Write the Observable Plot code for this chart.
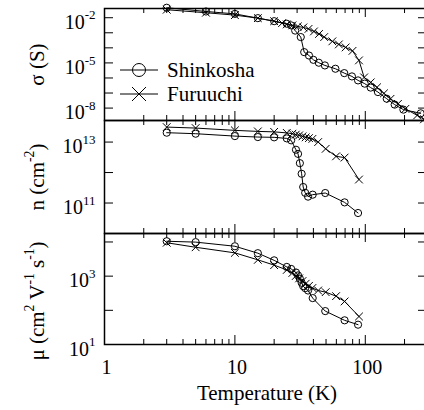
<!DOCTYPE html>
<html><head><meta charset="utf-8">
<script src="https://cdn.jsdelivr.net/npm/d3@7"></script>
<script src="https://cdn.jsdelivr.net/npm/@observablehq/plot@0.6"></script>
<style>
body{margin:0;background:#fff;}
#chart{position:relative;width:424px;height:410px;overflow:hidden;}
#chart svg{position:absolute;left:0;}
</style></head><body><div id="chart"></div>
<script>
// ---- data ----
const sigmaShinkoshaT = [3, 6, 10, 15, 20, 25, 27, 29, 32, 34, 37, 40, 44, 49, 59, 69, 79, 88, 99, 110, 125, 146, 168, 196, 266];
const sigmaShinkosha = [4.6e-2, 2.6e-2, 1.8e-2, 9.4e-3, 5.9e-3, 4.0e-3, 3.1e-3, 1.4e-3, 5.2e-4, 5.2e-5, 3.1e-5, 1.6e-5, 1.03e-5, 6.8e-6, 4.1e-6, 2.1e-6, 1.27e-6, 6.9e-7, 4.2e-7, 2.3e-7, 1.16e-7, 4.2e-8, 1.7e-8, 7.9e-9, 4.5e-9];
const sigmaFuruuchiT = [3, 6, 10, 15, 20, 23, 25, 27.6, 30.4, 33.5, 36.7, 40.4, 44.2, 48.4, 55.9, 62.7, 70.7, 79.8, 89.5, 98, 110, 123, 139, 156, 178, 203, 250, 282];
const sigmaFuruuchi = [3.4e-2, 2.15e-2, 1.49e-2, 9.4e-3, 5.9e-3, 4.4e-3, 3.6e-3, 3.1e-3, 2.65e-3, 2.27e-3, 1.81e-3, 1.23e-3, 8.4e-4, 5.2e-4, 2.7e-4, 1.69e-4, 1.07e-4, 6.3e-5, 1.47e-5, 1.09e-6, 5.1e-7, 2.4e-7, 9.5e-8, 4.1e-8, 1.9e-8, 8.9e-9, 3.3e-9, 1.8e-9];

const hallShinkoshaT = [3, 5, 10, 15, 20, 25, 27, 29.4, 30.5, 31.5, 32.5, 33.4, 34.6, 36.4, 39.5, 49.3, 69.4, 88];
const nShinkosha = [2.03e13, 1.88e13, 1.57e13, 1.46e13, 1.43e13, 1.32e13, 1.14e13, 5.6e12, 4.1e12, 2.03e12, 9.1e11, 3.35e11, 2.16e11, 1.62e11, 1.88e11, 2.13e11, 1.05e11, 4.7e10];
const muShinkosha = [1.05e4, 9.9e3, 7.5e3, 4.7e3, 2.9e3, 1.86e3, 1.63e3, 1.28e3, 1.05e3, 840, 640, 510, 445, 380, 228, 95, 51, 38];

const hallFuruuchiT = [3, 5, 10, 15, 20, 25, 27.6, 29.3, 31.1, 33, 34.9, 37, 39.3, 43.5, 49.7, 59.7, 69.4, 89.5];
const nFuruuchi = [3.1e13, 2.88e13, 2.42e13, 2.24e13, 2.16e13, 2.0e13, 1.88e13, 1.75e13, 1.66e13, 1.54e13, 1.43e13, 1.35e13, 1.27e13, 1.0e13, 6.0e12, 3.4e12, 3.1e12, 5.9e11];
const muFuruuchi = [9.5e3, 7.0e3, 4.8e3, 3.0e3, 2.1e3, 1.52e3, 1.24e3, 1.01e3, 860, 720, 600, 520, 450, 380, 340, 260, 182, 66];

const seriesNames = ["Shinkosha", "Furuuchi"];
const xTickLabels = [1, 10, 100];
const xMinorTicks = [2, 3, 4, 5, 6, 7, 8, 9, 20, 30, 40, 50, 60, 70, 80, 90, 200, 300];
const sigmaTicks = [1e-2, 1e-3, 1e-4, 1e-5, 1e-6, 1e-7, 1e-8];
const sigmaLabels = [1e-2, 1e-5, 1e-8];
const nTicks = [1e13, 1e12, 1e11];
const nLabels = [1e13, 1e11];
const muTicks = [1e4, 1e3, 1e2];
const muLabels = [1e3, 1e1];
const xTitle = "Temperature (K)";
const sigmaTitle = "σ (S)";
const nTitle = "n (cm^{-2})";
const muTitle = "μ (cm^{2} V^{-1} s^{-1})";

// ---- layout ----
const font = 'Liberation Serif, Times New Roman, Times, Tinos, Noto Serif, DejaVu Serif, FreeSerif, Nimbus Roman, serif';
const W = 428, ML = 104, MR = 1, FW = W - ML - MR;
const rows = (T, V) => T.map((t, i) => ({T: t, v: V[i]}));

function seriesMarks(a, b) {
  return [
    Plot.line(a, {x: "T", y: "v", stroke: "black", strokeWidth: 1}),
    Plot.line(b, {x: "T", y: "v", stroke: "black", strokeWidth: 1}),
    Plot.dot(a, {x: "T", y: "v", r: 3.6, symbol: "circle", stroke: "black", fill: "none", strokeWidth: 1}),
    Plot.dot(b, {x: "T", y: "v", r: 3.6, symbol: "times", stroke: "black", strokeWidth: 1})
  ];
}

function panel({top, height, marginTop = 0, marginBottom = 0, yDomain, yTicks, yLabels, title, titleDy = 0, a, b, extra = []}) {
  const FH = height - marginTop - marginBottom;
  const svg = Plot.plot({
    width: W, height, marginLeft: ML, marginRight: MR, marginTop, marginBottom,
    style: {overflow: "visible", maxWidth: "none", background: "transparent", color: "black"},
    x: {type: "log", domain: [1, 300], axis: null},
    y: {type: "log", domain: yDomain, axis: null},
    marks: [
      Plot.tickX(xTickLabels, {x: d => d, insetBottom: FH - 9, stroke: "black"}),
      Plot.tickX(xTickLabels, {x: d => d, insetTop: FH - 9, stroke: "black"}),
      Plot.tickX(xMinorTicks, {x: d => d, insetBottom: FH - 5, stroke: "black"}),
      Plot.tickX(xMinorTicks, {x: d => d, insetTop: FH - 5, stroke: "black"}),
      Plot.tickY(yTicks, {y: d => d, insetRight: FW - 9, stroke: "black"}),
      Plot.tickY(yTicks, {y: d => d, insetLeft: FW - 9, stroke: "black"}),
      Plot.frame({stroke: "black", strokeWidth: 1.5}),
      Plot.text(yLabels, {y: d => d, frameAnchor: "left", dx: -9, dy: 11, lineAnchor: "bottom", textAnchor: "end",
        text: d => `10^{${Math.round(Math.log10(d))}}`, fontSize: 20, fill: "black", fontFamily: font}),
      Plot.text([title], {frameAnchor: "left", dx: -61, dy: titleDy, rotate: -90, lineAnchor: "bottom", textAnchor: "middle", fontSize: 21, fill: "black", fontFamily: font}),
      ...seriesMarks(a, b),
      ...extra
    ]
  });
  svg.style.top = top + "px";
  return svg;
}

function richify(svg) {
  d3.select(svg).selectAll("text").each(function () {
    const s = this.textContent;
    if (!s.includes("^{")) return;
    const parts = s.split(/\^\{([^}]*)\}/);
    const el = d3.select(this);
    el.text(null);
    let raised = false;
    parts.forEach((p, i) => {
      if (p === "") return;
      const t = el.append("tspan").text(p);
      if (i % 2 === 1) {
        t.attr("font-size", "0.65em").attr("dy", "-0.72em");
        raised = true;
      } else if (raised) {
        t.attr("dy", "0.468em");
        raised = false;
      }
    });
  });
}

const chart = document.getElementById("chart");

const p1 = panel({top: 0, height: 120, marginTop: 8, yDomain: [1.5e-9, 0.041], yTicks: sigmaTicks, yLabels: sigmaLabels,
  title: sigmaTitle, a: rows(sigmaShinkoshaT, sigmaShinkosha), b: rows(sigmaFuruuchiT, sigmaFuruuchi)});
const p2 = panel({top: 120, height: 113, yDomain: [1e10, 5.1e13], yTicks: nTicks, yLabels: nLabels,
  title: nTitle, a: rows(hallShinkoshaT, nShinkosha), b: rows(hallFuruuchiT, nFuruuchi)});
const p3 = panel({top: 233, height: 177, marginBottom: 66, yDomain: [10, 1.77e4], yTicks: muTicks, yLabels: muLabels,
  title: muTitle, titleDy: 12, a: rows(hallShinkoshaT, muShinkosha), b: rows(hallFuruuchiT, muFuruuchi),
  extra: [
    Plot.text(xTickLabels, {x: d => d, frameAnchor: "bottom", lineAnchor: "bottom", dy: 29, dx: 2, text: d => String(d), fontSize: 20, fill: "black", fontFamily: font}),
    Plot.text([xTitle], {frameAnchor: "bottom", lineAnchor: "bottom", dy: 55.5, dx: 1, fontSize: 21, fill: "black", fontFamily: font})
  ]});

[p1, p2, p3].forEach(s => { chart.appendChild(s); richify(s); });

// ---- legend ----
const lg = d3.select(chart).append("svg").attr("width", 424).attr("height", 130).style("top", "0px");
const legendY = [70, 94];
seriesNames.forEach((name, i) => {
  const y = legendY[i];
  lg.append("line").attr("x1", 120).attr("x2", 158).attr("y1", y).attr("y2", y).attr("stroke", "black");
  if (i === 0) {
    lg.append("circle").attr("cx", 139).attr("cy", y).attr("r", 6.5).attr("fill", "none").attr("stroke", "black");
  } else {
    lg.append("path").attr("d", `M132,${y - 7}L146,${y + 7}M132,${y + 7}L146,${y - 7}`).attr("stroke", "black");
  }
  lg.append("text").attr("x", 167).attr("y", y + 7).attr("font-size", 21).attr("fill", "black")
    .attr("font-family", font).text(name);
});
</script></body></html>
